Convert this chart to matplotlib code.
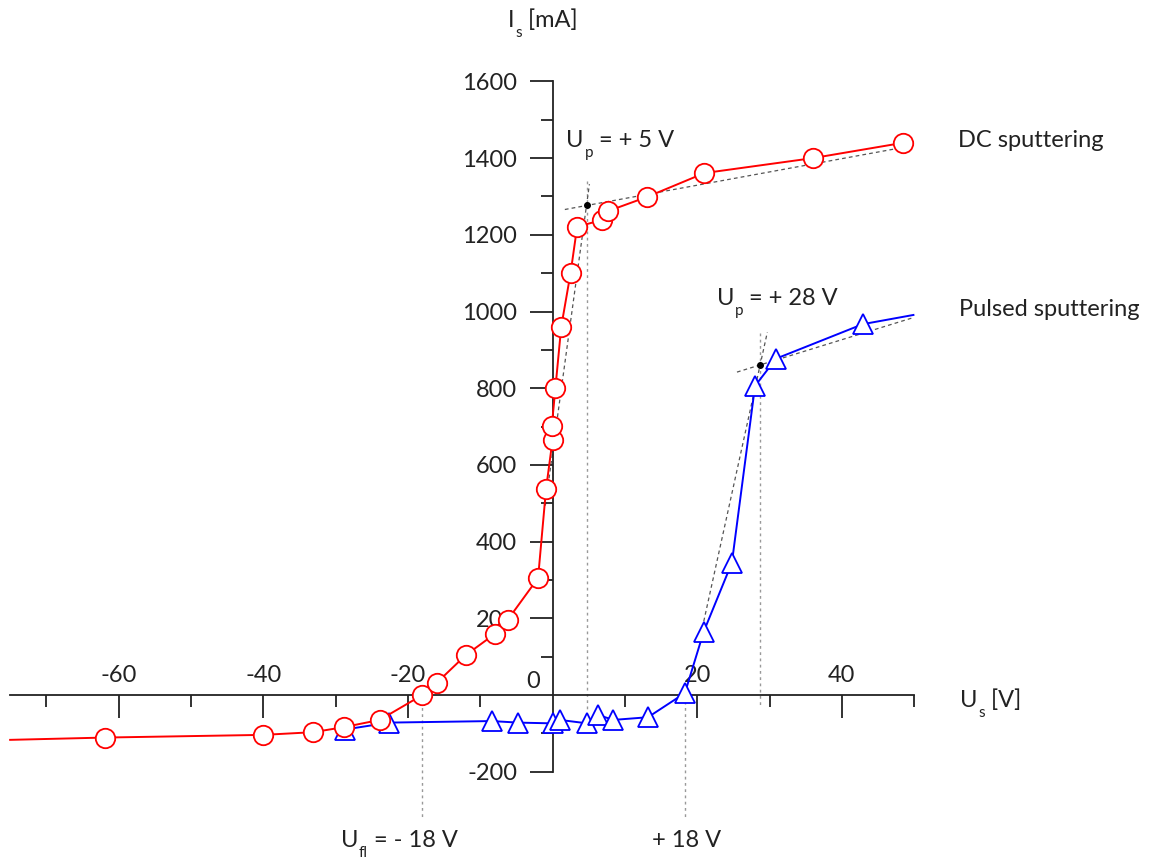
import matplotlib
matplotlib.use("Agg")
import matplotlib.pyplot as plt

plt.rcParams["font.family"] = ["Lato", "DejaVu Sans"]
plt.rcParams["axes.unicode_minus"] = False

# DC sputtering (red circles); first point only continues the line to the axis edge
dc_u = [-75.0, -61.9, -40.0, -33.1, -28.9, -23.9, -18.0, -16.0, -12.0, -8.0, -6.2,
        -2.0, -0.9, 0.0, -0.1, 0.4, 1.2, 2.5, 3.4, 6.9, 7.7, 13.1, 21.0, 36.0, 48.5]
dc_i = [-117, -111, -104, -97, -84, -65, 0, 32, 104, 159, 196,
        305, 537, 665, 702, 801, 960, 1101, 1221, 1239, 1262, 1299, 1361, 1400, 1440]

# pulsed sputtering (blue triangles); last point only continues the line to the axis end
pu_u = [-28.7, -22.6, -8.4, -4.8, 0.0, 1.0, 4.8, 6.3, 8.4, 13.2, 18.3, 20.9, 24.8,
        28.0, 30.9, 42.9, 49.9]
pu_i = [-90, -72, -68, -72, -74, -65, -74, -52, -65, -58, 5, 165, 345,
        806, 877, 967, 991]

# tangent constructions
dc_tan_flat_u = [1.7, 48.8]
dc_tan_flat_i = [1266, 1429]
dc_tan_steep_u = [-1.0, 5.1]
dc_tan_steep_i = [494, 1332]
dc_up = (4.7, 1277)
pu_tan_flat_u = [25.5, 49.7]
pu_tan_flat_i = [842, 983]
pu_tan_steep_u = [20.5, 29.7]
pu_tan_steep_i = [157, 946]
pu_up = (28.7, 860)

x_major = [-60, -40, -20, 20, 40]
x_minor = [-70, -50, -30, -10, 10, 30, 50]
y_major = [-200, 200, 400, 600, 800, 1000, 1200, 1400, 1600]
y_minor = [-100, 100, 300, 500, 700, 900, 1100, 1300, 1500]

fig = plt.figure(figsize=(11.68, 8.61), dpi=100)
ax = fig.add_axes([0, 0, 1, 1])
ax.patch.set_visible(False)
ax.set_xlim(-76.4, 85.1)
ax.set_ylim(-432.9, 1812.3)

for side in ["top", "right"]:
    ax.spines[side].set_visible(False)
ax.spines["left"].set_position(("data", 0))
ax.spines["bottom"].set_position(("data", 0))
ax.spines["left"].set_bounds(-200, 1600)
ax.spines["bottom"].set_bounds(-75, 50)
for side in ["left", "bottom"]:
    ax.spines[side].set_linewidth(1.3)
    ax.spines[side].set_color("#222222")

ax.set_xticks(x_major)
ax.set_xticks(x_minor, minor=True)
ax.set_yticks(y_major)
ax.set_yticks(y_minor, minor=True)
ax.tick_params(axis="both", which="major", direction="out", length=16.5, width=1.3,
               color="#222222")
ax.tick_params(axis="both", which="minor", direction="out", length=8.5, width=1.3,
               color="#222222")
ax.tick_params(axis="x", labelbottom=False)
ax.tick_params(axis="y", labelsize=17, pad=9, labelcolor="#222222")

for v in x_major:
    ax.text(v, 34, str(v), ha="center", va="baseline", fontsize=17, color="#222222")
ax.text(-2.7, 18, "0", ha="center", va="baseline", fontsize=17, color="#222222")

# guide lines
dot = dict(color="#999999", lw=1.0, ls=(0, (2, 2.5)), zorder=1)
ax.plot([4.7, 4.7], [1340, -39], **dot)
ax.plot([28.7, 28.7], [944, -34], **dot)
ax.plot([-18.0, -18.0], [0, -320], **dot)
ax.plot([18.3, 18.3], [0, -320], **dot)

dash = dict(color="#555555", lw=0.9, ls=(0, (3, 2.5)), zorder=1)
ax.plot(dc_tan_flat_u, dc_tan_flat_i, **dash)
ax.plot(dc_tan_steep_u, dc_tan_steep_i, **dash)
ax.plot(pu_tan_flat_u, pu_tan_flat_i, **dash)
ax.plot(pu_tan_steep_u, pu_tan_steep_i, **dash)

ax.plot(pu_u, pu_i, color="#0000ff", lw=1.4, marker="^", ms=15, mfc="white",
        mec="#0000ff", mew=1.3, markevery=list(range(len(pu_u) - 1)), zorder=3)
ax.plot(dc_u, dc_i, color="#ff0000", lw=1.4, marker="o", ms=14, mfc="white",
        mec="#ff0000", mew=1.3, markevery=list(range(1, len(dc_u))), zorder=4)

ax.plot(*dc_up, "o", color="black", ms=4, zorder=5)
ax.plot(*pu_up, "o", color="black", ms=4, zorder=5)


def sub_label(x, y, main, sub, rest):
    # main letter, lowered small subscript, then the rest on the main baseline
    t = ax.text(x, y, main, fontsize=17, color="#222222", va="baseline", ha="left")
    s = ax.annotate(sub, xy=(1, y), xycoords=(t, "data"), xytext=(0.5, -7.5),
                    textcoords="offset points", fontsize=11, color="#222222",
                    va="baseline", ha="left")
    ax.annotate(rest, xy=(1, y), xycoords=(s, "data"), xytext=(0, 0),
                textcoords="offset points", fontsize=17, color="#222222",
                va="baseline", ha="left")


txt = dict(fontsize=17, color="#222222", va="baseline", ha="left")
sub_label(-6.15, 1742, "I", "s", " [mA]")
sub_label(1.9, 1429, "U", "p", " = + 5 V")
ax.text(56.1, 1429, "DC sputtering", **txt)
sub_label(22.7, 1017, "U", "p", " = + 28 V")
ax.text(56.2, 988, "Pulsed sputtering", **txt)
sub_label(56.4, -31, "U", "s", " [V]")
sub_label(-29.3, -396, "U", "fl", " = - 18 V")
ax.text(13.7, -396, "+ 18 V", **txt)

fig.savefig("out.png", dpi=100)
